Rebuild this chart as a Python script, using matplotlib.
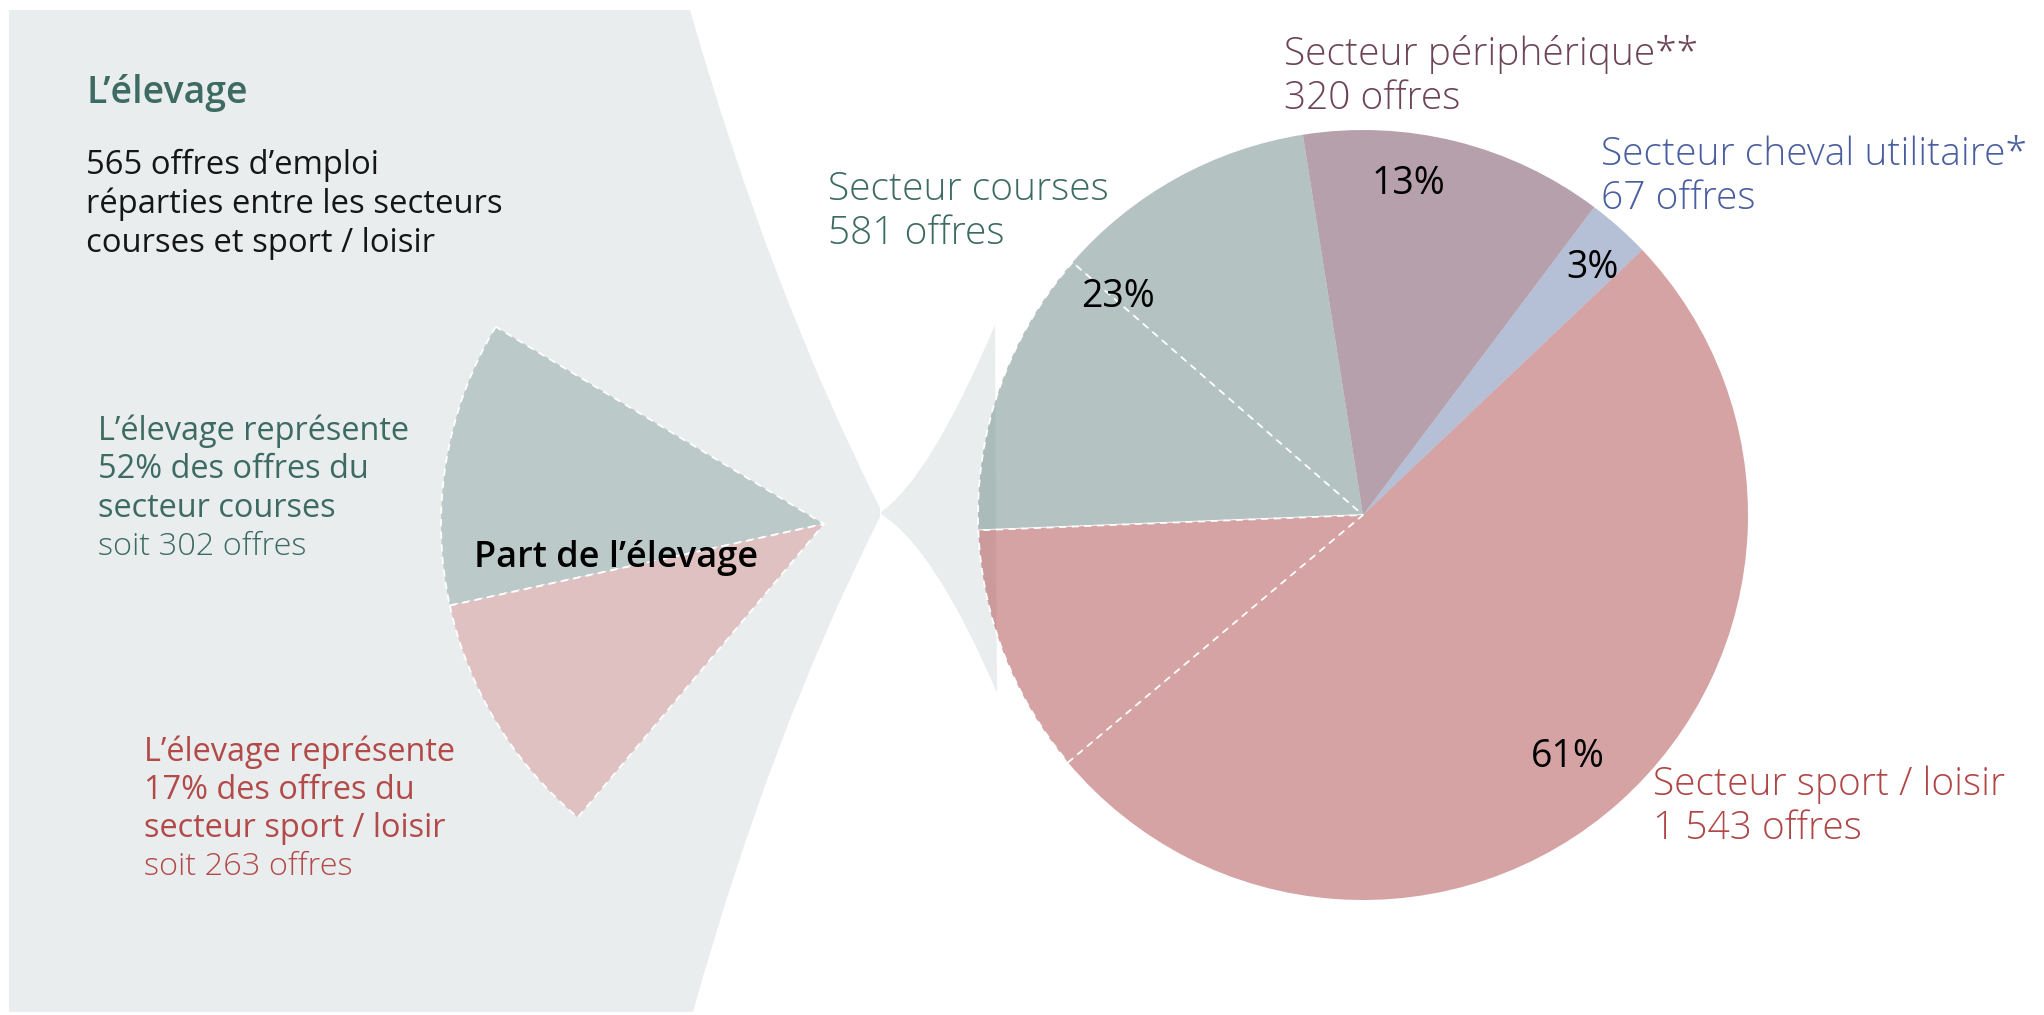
import matplotlib
matplotlib.use("Agg")
import matplotlib.pyplot as plt
from matplotlib.path import Path
from matplotlib.patches import PathPatch
from matplotlib.colors import to_rgba
import numpy as np

plt.rcParams['font.family'] = ['Open Sans', 'DejaVu Sans']

# dimensions de l'image en pixels
W, H = 2044, 1015

# données
secteurs = ["Secteur cheval utilitaire*", "Secteur périphérique**",
            "Secteur courses", "Secteur sport / loisir"]
offres = [67, 320, 581, 1543]
offres_txt = ["67 offres", "320 offres", "581 offres", "1 543 offres"]
elevage_courses = 302
elevage_sport = 263
part_courses = 52
part_sport = 17
total_elevage = 565

# couleurs
coul_pie = ["#788bb4", "#7a5266", "#779390", "#b35858"]
coul_txt = ["#4a5ea0", "#6e4458", "#3d6b63", "#b04646"]
coul_fan = ["#bbcac9", "#dfc1c2"]
gris = "#e9eded"
vert = "#3d6b63"
rouge = "#b34a4a"

fig = plt.figure(figsize=(W / 100, H / 100), dpi=100)
ax = fig.add_axes([0, 0, 1, 1])

def P(x, y):
    # coordonnees pixel (origine en haut) -> coordonnees axe
    return (x, H - y)

# panneau gris a gauche
verts = [P(9, 10), P(690, 10), P(770, 290), P(880, 508), P(880, 517),
         P(770, 735), P(693, 1012), P(9, 1012), P(9, 10)]
codes = [Path.MOVETO, Path.LINETO, Path.CURVE3, Path.CURVE3, Path.LINETO,
         Path.CURVE3, Path.CURVE3, Path.LINETO, Path.CLOSEPOLY]
ax.add_patch(PathPatch(Path(verts, codes), facecolor=gris, edgecolor='none', zorder=0))

# entonnoir vers le camembert
verts = [P(881, 512), P(930, 478), P(995, 325), P(997, 693),
         P(935, 548), P(881, 514), P(881, 512)]
codes = [Path.MOVETO, Path.CURVE3, Path.CURVE3, Path.LINETO,
         Path.CURVE3, Path.CURVE3, Path.CLOSEPOLY]
ax.add_patch(PathPatch(Path(verts, codes), facecolor=gris, edgecolor='none', zorder=0))

# camembert principal
total = sum(offres)
vals = [offres[0], offres[1], offres[2] - elevage_courses, elevage_courses,
        elevage_sport, offres[3] - elevage_sport]
cols = [coul_pie[0], coul_pie[1], coul_pie[2], coul_pie[2], coul_pie[3], coul_pie[3]]
cols = [to_rgba(c, 0.55) for c in cols]
cx, cy, R = 1363, 515, 385
wedges, _ = ax.pie(vals, colors=cols, startangle=43.5, counterclock=True,
                   center=P(cx, cy), radius=R, frame=True,
                   wedgeprops=dict(linewidth=0))
for w in wedges[3:5]:
    w.set_edgecolor('white')
    w.set_linewidth(1.3)
    w.set_linestyle((0, (4, 3)))
    w.set_zorder(3)

# pourcentages
pct_pos = [(47.6, 0.885), (82.3, 0.88), (137.7, 0.86), (310.7, 0.815)]
for v, (ang, rr) in zip(offres, pct_pos):
    a = np.radians(ang)
    ax.text(cx + rr * R * np.cos(a), H - cy + rr * R * np.sin(a),
            f"{round(v / total * 100)}%", ha='center', va='center_baseline',
            fontsize=27, color='black', zorder=5)

# part de l'elevage (eventail)
fan = [elevage_courses / total, elevage_sport / total]
fw, _ = ax.pie(fan, colors=coul_fan, startangle=149, counterclock=True,
               normalize=False, center=P(824, 524), radius=383, frame=True,
               wedgeprops=dict(edgecolor='white', linewidth=1.3, linestyle=(0, (4, 3))))
ax.text(474, H - 567, "Part de l\u2019élevage", fontsize=26, fontweight='semibold',
        color='black', va='baseline', zorder=5)

# etiquettes des secteurs
lab_pos = [(1601, 165), (1284, 65), (828, 200), (1653, 795)]
for s, o, c, (x, y) in zip(secteurs, offres_txt, coul_txt, lab_pos):
    ax.text(x, H - y, s, fontsize=28, color=c, va='baseline', fontweight='light')
    ax.text(x, H - y - 44, o, fontsize=28, color=c, va='baseline', fontweight='light')

# textes du panneau
ax.text(86, H - 103, "L\u2019élevage", fontsize=27, fontweight='semibold',
        color=vert, va='baseline')
corps = [f"{total_elevage} offres d\u2019emploi", "réparties entre les secteurs",
         "courses et sport / loisir"]
for i, t in enumerate(corps):
    ax.text(86, H - 174 - 39 * i, t, fontsize=23.6, color='#161616', va='baseline')

txt_c = ["L\u2019élevage représente", f"{part_courses}% des offres du", "secteur courses"]
for i, t in enumerate(txt_c):
    ax.text(98, H - 440 - 38.3 * i, t, fontsize=23.4, color=vert, va='baseline')
ax.text(98, H - 440 - 38.3 * 3, f"soit {elevage_courses} offres", fontsize=23.4,
        color=vert, va='baseline', fontweight='light')

txt_s = ["L\u2019élevage représente", f"{part_sport}% des offres du", "secteur sport / loisir"]
for i, t in enumerate(txt_s):
    ax.text(144, H - 761 - 38 * i, t, fontsize=23.4, color=rouge, va='baseline')
ax.text(144, H - 761 - 38 * 3, f"soit {elevage_sport} offres", fontsize=23.4,
        color=rouge, va='baseline', fontweight='light')

ax.set_xlim(0, W)
ax.set_ylim(0, H)
ax.set_aspect('equal')
ax.axis('off')

fig.savefig("out.png", dpi=100, facecolor='white')
